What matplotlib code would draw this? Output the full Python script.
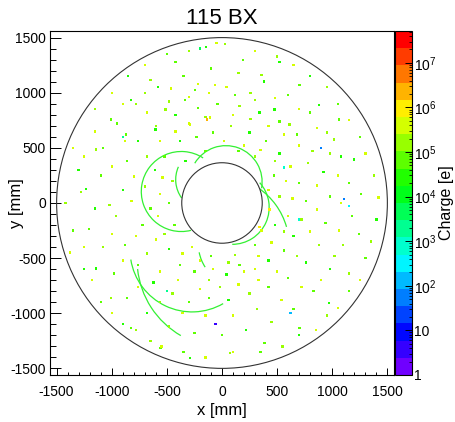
import numpy as np
import matplotlib
matplotlib.use("Agg")
import matplotlib.pyplot as plt
from matplotlib.colors import ListedColormap, LogNorm, hsv_to_rgb
from matplotlib.patches import Circle, Arc
from matplotlib.ticker import MultipleLocator, LogLocator

plt.rcParams["font.family"] = ["Liberation Sans", "DejaVu Sans"]
plt.rcParams["mathtext.fontset"] = "custom"
plt.rcParams["mathtext.rm"] = "Liberation Sans"
plt.rcParams["mathtext.it"] = "Liberation Sans"
plt.rcParams["axes.unicode_minus"] = False

# detector geometry [mm]
outer_r = 1500
inner_r = 365

# curling tracks: centre, radius, angular span (deg)
track_cx = [-369, -135, 35, 93, -271, 23, 166, -30]
track_cy = [104, 212, 191, -40, -425, -516, -375, -393]
track_r = [363, 285, 329, 335, 563, 793, 380, 640]
track_t1 = [57, 156, -10, -90, 189, 186, 191, 16]
track_t2 = [284, 216, 149, 42, 300, 240, 213, 56]

# single hits: position [mm] and charge [e]
hit_x = [-144, 27, -423, 189, 360, 522, 702, -648, -828, -243, -63, 117, 297, 882, 1062,
         -1008, -513, -333, -135, -108, 477, 612, -288, -603, -873, -1143, -1233, -1206,
         -1143, -1008, -828, -558, -288, 72, 387, 702, 972, 1152, 1242, 1260, 1197, 1017,
         -520, -610, -700, -650, -720, -600, -480, -380, -250, -120, 40, 160, 300, 420,
         560, 650, 720, 760, 700, 620, 520, 400, 250, 80, -80, -230, -380,
         -860, -900, -960, -880, -760, -620, -450, -300, -120, 60, 250, 420, 600, 760,
         880, 940, 980, 920, 820, 680, 520, 340, 160, -40, -220, -420, -600, -760,
         -1100, -1150, -1080, -980, -860, -680, -480, -250, 0, 220, 450, 650, 830, 980,
         1100, 1180, 1150, 1080, 950, 800, 600, 380, 150, -100, -350, -580, -780, -950,
         -1080, -1300, -1350, -1250, -1100, -900, -650, -350, 350, 700, 950, 1150, 1300,
         1400, 1380, 1250, 1050, 800, 500, -500, -850, -1150,
         420, 430, 342, 360, 470, 300, 150, -150, -330, -450, -480, -430, -273, -100,
         120, 300, 480, 520,
         1107, 1150, 700, -500, 900, -60, 560, -200, 620, -900,
         -560, -420, -300, -150, 20, 200, 350, 480, 580, 640, 600, 560, 450, 330, 200,
         60, -80, -200, -360, -520, -580, -560, -540, -680, -800, -820, -780, -680,
         -560, -400, -200, -20, 150, 330, 500, 680, 800, 860, 860, 780, 700, 560, 420,
         260, 100, -120, -300, -480, -680, -880, -1000, -1020, -1000, -900, -760, -560,
         -360, -150, 100, 320, 540, 720, 900, 1020, 1060, 1080, 1050, 980, 860, 700,
         480, 260, 40, -220, -460, -700, -900, -1150, -1250, -1280, -1250, -1180, -1000,
         -780, -550, -150, 100, 550, 850, 1050, 1250, 1350, 1420, 1300, 1150, 950, 650,
         300, -50, -300, -700, -1000, -1350, -1420, -1380]
hit_y = [1413, 1440, 1278, 1296, 1161, 1278, 1071, 1116, 936, 1026, 1071, 981, 936, 891, 756,
         756, 846, 936, 756, 774, 846, 711, 711, 666, 621, 486, 126, -234,
         -594, -864, -1134, -1314, -1404, -1359, -1269, -1134, -909, -639, -279, 81, 396, 576,
         420, 300, 150, -50, -200, -330, -420, -560, -620, -700, -650, -560, -600, -520,
         -430, -300, -150, 20, 180, 330, 450, 560, 640, 700, 640, 600, 560,
         380, 120, -120, -380, -560, -720, -820, -900, -860, -880, -820, -760, -680, -540,
         -380, -180, 60, 280, 470, 620, 740, 820, 880, 900, 860, 800, 700, 560,
         250, -50, -400, -640, -860, -1000, -1120, -1180, -1200, -1150, -1080, -960, -800, -600,
         -380, -120, 180, 420, 640, 820, 980, 1100, 1180, 1220, 1150, 1050, 900, 720,
         500, 300, -250, -600, -900, -1100, -1250, -1350, -1350, -1200, -1020, -800, -500,
         -150, 250, 600, 900, 1150, 1330, 1350, 1150, 850,
         120, -60, -216, -250, 250, 420, 470, 470, 380, 200, 0, -200, -399, -480,
         -470, -380, -200, 60,
         36, -30, -150, -800, 500, -1100, 320, 1400, -1000, 600,
         560, 650, 720, 780, 560, 520, 480, 380, 200, 40, -120, -260, -360, -480, -620,
         -540, -600, -520, -460, -280, -120, 80, 230, 420, 240, 20, -300, -460,
         -620, -700, -780, -760, -740, -700, -620, -480, -260, -60, 160, 360, 520, 620, 700,
         760, 800, 1000, 960, 920, 820, 560, 330, -20, -280, -520, -760, -900,
         -1000, -1020, -1020, -960, -880, -760, -700, -480, -250, 0, 250, 450, 680, 850,
         950, 1000, 1050, 1080, 1040, 1000, 900, 650, 420, 100, -400, -700, -1000,
         -1150, -1300, -1400, -1350, -1300, -1150, -950, -700, -350, 50, 450, 750, 1050, 1250,
         1380, 1450, 1380, 1250, 1000, 500, 0, -450]
hit_q = [3e4, 2e5, 1e5, 5e4, 2e5, 3e4, 1e5, 2e5, 4e4, 1e5, 3e5, 5e4, 1.5e5, 2e4, 1e5,
         6e4, 2e5, 8e4, 2e6, 5e5, 3e4, 2e5, 5e5, 3e4, 1e5, 2e5, 4e4, 1e5,
         3e4, 2e5, 5e4, 1e5, 3e4, 2e5, 6e4, 1e5, 3e4, 2e5, 5e4, 1e5, 3e4, 2e5,
         1e5, 3e4, 2e5, 5e4, 1e5, 3e5, 2e4, 1e5, 6e4, 2e5, 3e4, 1e5, 5e5, 2e4,
         1e5, 3e4, 2e5, 6e4, 1e5, 3e5, 4e4, 1e5, 2e4, 2e5, 5e4, 1e5, 3e4,
         1e5, 3e4, 2e5, 6e4, 1e5, 3e4, 2e5, 5e4, 1e5, 3e4, 2e5, 8e4, 1e5, 3e4,
         2e5, 5e4, 1e5, 3e4, 2e5, 6e4, 1e5, 3e4, 2e5, 5e4, 1e5, 3e4, 2e5, 4e4,
         1e5, 3e4, 2e5, 5e4, 1e5, 3e4, 2e5, 6e4, 1e5, 3e4, 2e5, 5e4, 1e5, 3e4,
         2e5, 6e4, 1e5, 3e4, 2e5, 5e4, 1e5, 3e4, 2e5, 5e4, 1e5, 3e4, 2e5, 5e4,
         1e5, 3e4, 1e5, 4e4, 1e5, 3e4, 2e5, 5e4, 1e5, 3e4, 2e5, 5e4, 1e5,
         3e4, 2e5, 5e4, 1e5, 3e4, 2e5, 1e5, 3e4, 2e5,
         3e5, 1e6, 1e6, 5e5, 1e5, 2e5, 5e4, 1e5, 3e4, 2e5, 5e4, 1e5, 3e5, 5e4,
         2e5, 1e5, 3e4, 2e5,
         40, 300, 1000, 2000, 50, 5, 800, 3000, 200, 1500,
         4e5, 3e5, 6e5, 2e5, 4e5, 3e5, 5e5, 2e5, 4e5, 3e5, 6e5, 2e5, 4e5, 3e5, 5e5,
         2e5, 4e5, 3e5, 6e5, 2e5, 4e5, 3e5, 5e5, 2e5, 4e5, 3e5, 6e5, 2e5,
         4e5, 3e5, 5e5, 2e5, 4e5, 3e5, 6e5, 2e5, 4e5, 3e5, 5e5, 2e5, 4e5, 3e5, 6e5,
         2e5, 4e5, 3e5, 5e5, 2e5, 4e5, 3e5, 6e5, 2e5, 4e5, 3e5, 5e5, 2e5,
         4e5, 3e5, 6e5, 2e5, 4e5, 3e5, 5e5, 2e5, 4e5, 3e5, 6e5, 2e5, 4e5, 3e5,
         5e5, 2e5, 4e5, 3e5, 6e5, 2e5, 4e5, 3e5, 5e5, 2e5, 4e5, 3e5, 6e5,
         2e5, 4e5, 3e5, 5e5, 2e5, 4e5, 3e5, 6e5, 2e5, 4e5, 3e5, 5e5, 2e5, 4e5,
         3e5, 5e5, 2e5, 4e5, 3e5, 6e5, 2e5, 4e5]

# palette: 20 levels, violet (low) -> red (high)
n_levels = 20
hues = np.linspace(0.74, 0.0, n_levels)
palette = ListedColormap([hsv_to_rgb((h, 1.0, 1.0)) for h in hues])
norm = LogNorm(vmin=1, vmax=5.2e7)

fig = plt.figure(figsize=(4.55, 4.22), dpi=100)
ax = fig.add_axes([0.1099, 0.1114, 0.7560, 0.8152])
cax = fig.add_axes([0.8681, 0.1114, 0.0367, 0.8152])

# tracks
for cx, cy, r, t1, t2 in zip(track_cx, track_cy, track_r, track_t1, track_t2):
    ax.add_patch(Arc((cx, cy), 2 * r, 2 * r, theta1=t1, theta2=t2,
                     color="#33f033", lw=0.9, zorder=2))

sc = ax.scatter(hit_x, hit_y, c=hit_q, cmap=palette, norm=norm, marker="s",
                s=3, linewidths=0, zorder=3)

ax.add_patch(Circle((0, 0), outer_r, fill=False, ec="#333333", lw=0.8, zorder=4))
ax.add_patch(Circle((0, 0), inner_r, fc="white", ec="#333333", lw=0.8, zorder=4))

ax.set_xlim(-1560, 1560)
ax.set_ylim(-1560, 1560)
ax.xaxis.set_major_locator(MultipleLocator(500))
ax.xaxis.set_minor_locator(MultipleLocator(100))
ax.yaxis.set_major_locator(MultipleLocator(500))
ax.yaxis.set_minor_locator(MultipleLocator(100))
ax.tick_params(axis="x", which="major", direction="in", length=5, width=0.7, labelsize=10, pad=7)
ax.tick_params(axis="x", which="minor", direction="in", length=2.5, width=0.7)
ax.tick_params(axis="y", which="major", direction="in", length=8, width=0.7, labelsize=10, pad=3)
ax.tick_params(axis="y", which="minor", direction="in", length=4, width=0.7)
for s in ax.spines.values():
    s.set_linewidth(0.8)

fig.text(222 / 455, 1 - 18 / 422, "115 BX", ha="center", va="center", fontsize=16)
fig.text(222 / 455, 1 - 410 / 422, "x [mm]", ha="center", va="center", fontsize=12)
fig.text(16 / 455, 1 - 203 / 422, "y [mm]", ha="center", va="center", fontsize=12, rotation=90)

cb = fig.colorbar(sc, cax=cax)
cb.outline.set_linewidth(0.8)
cb.set_ticks([1, 10, 1e2, 1e3, 1e4, 1e5, 1e6, 1e7])
cb.set_ticklabels(["1", "10", r"$10^{2}$", r"$10^{3}$", r"$10^{4}$",
                   r"$10^{5}$", r"$10^{6}$", r"$10^{7}$"])
cax.yaxis.set_minor_locator(LogLocator(base=10, subs=np.arange(2, 10)))
cax.tick_params(which="major", direction="in", length=5, width=0.7, labelsize=10, pad=2)
cax.tick_params(which="minor", direction="in", length=2.5, width=0.6)
fig.text(447 / 455, 1 - 203 / 422, "Charge [e]", ha="center", va="center", fontsize=11.5, rotation=90)

fig.savefig("out.png", dpi=100)
